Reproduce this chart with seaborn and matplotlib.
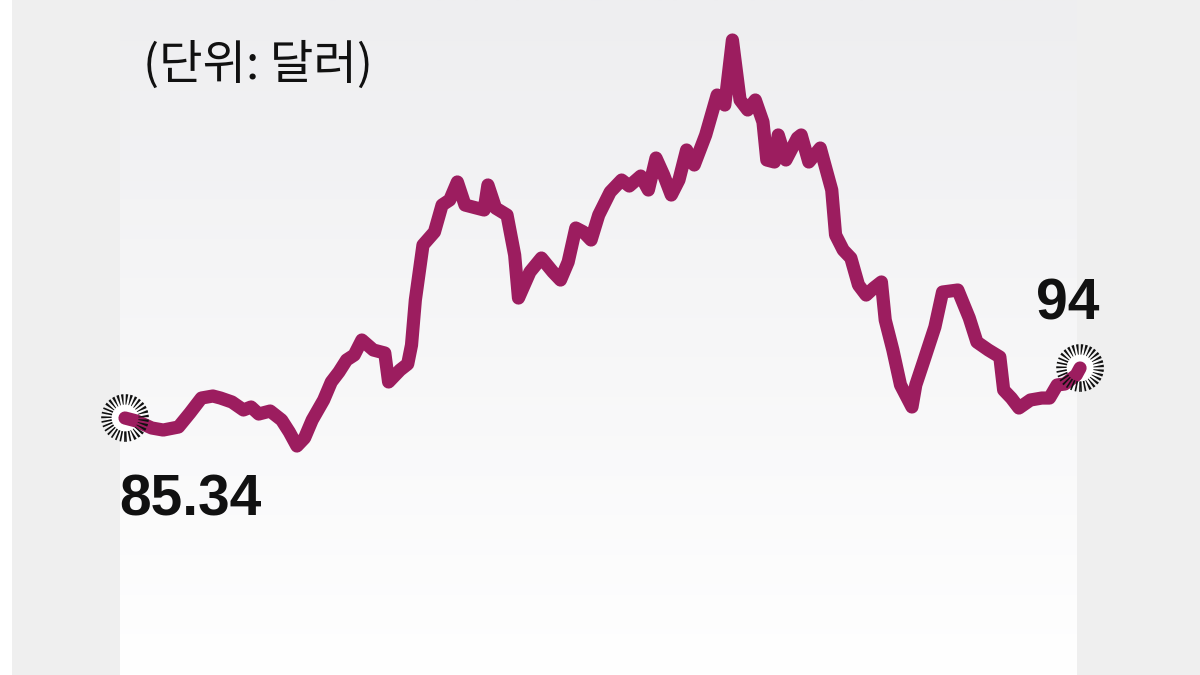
import numpy as np
import pandas as pd
import matplotlib
import matplotlib.pyplot as plt
import seaborn as sns
from matplotlib.colors import LinearSegmentedColormap
from matplotlib.patches import Rectangle

matplotlib.use('Agg')

# trading day index and price (dollars)
days = [0, 3, 7, 10, 14, 17, 20, 23, 25, 28, 31, 33, 35, 38, 41, 43, 45, 47, 49,
        52, 54, 56, 58, 60, 62, 65, 68, 69, 72, 74, 75, 76, 78, 81, 83, 85, 87,
        89, 92, 94, 95, 97, 100, 102, 103, 106, 109, 112, 114, 116, 118, 120,
        122, 124, 127, 130, 132, 135, 137, 139, 141, 143, 145, 147, 149, 152,
        155, 157, 159, 161, 163, 165, 167, 168, 170, 171, 173, 176, 177, 179,
        182, 185, 186, 188, 190, 192, 194, 196, 198, 199, 201, 203, 206, 207,
        209, 212, 214, 218, 221, 223, 226, 229, 230, 232, 234, 237, 240, 242,
        244, 246, 249, 250]
prices = [85.34, 84.82, 83.61, 83.26, 83.78, 86.21, 88.80, 89.15, 88.80, 88.11,
          86.73, 87.25, 86.03, 86.55, 84.99, 82.92, 80.49, 81.88, 84.99, 88.46,
          91.58, 93.31, 95.39, 96.25, 98.85, 97.12, 96.60, 91.58, 93.65, 94.69,
          97.98, 105.78, 115.30, 117.56, 122.23, 123.10, 126.22, 122.23, 121.71,
          121.37, 125.70, 121.71, 120.50, 113.57, 106.12, 110.63, 113.05, 110.63,
          109.24, 112.36, 118.25, 117.56, 116.17, 120.50, 124.48, 126.56, 125.52,
          127.25, 124.83, 130.37, 127.43, 123.96, 126.56, 131.76, 129.16, 134.36,
          141.28, 139.55, 150.81, 140.42, 138.69, 140.42, 136.61, 130.03, 129.68,
          134.36, 130.03, 133.84, 134.36, 129.68, 132.10, 124.83, 117.04, 114.44,
          113.05, 108.38, 106.64, 107.86, 108.90, 102.31, 97.12, 91.06, 87.25,
          91.06, 95.04, 101.10, 107.16, 107.51, 102.66, 98.50, 97.12, 95.91,
          90.19, 88.80, 87.07, 88.46, 88.80, 88.80, 91.06, 91.23, 92.79, 94.00]

unit_label = "(단위: 달러)"
start_label = "85.34"
end_label = "94"

line_color = '#9c1d5f'
bg_gray = '#efefef'

df = pd.DataFrame({'day': days, 'price': prices})

sns.set_style('white')
plt.rcParams['font.family'] = ['Liberation Sans', 'DejaVu Sans']

fig = plt.figure(figsize=(12, 6.75), dpi=100)
fig.patch.set_facecolor(bg_gray)
fig.patches.append(Rectangle((0, 0), 12 / 1200, 1, transform=fig.transFigure,
                             facecolor='white', edgecolor='none', zorder=0))

ax = fig.add_axes([120 / 1200, 0, 957 / 1200, 1])
ax.set_xlim(-1.31, 249.2)
ax.set_ylim(40.83, 157.74)

# vertical gradient panel: light gray at top, white at bottom
grad_cmap = LinearSegmentedColormap.from_list('panel', ['#ffffff', '#eeeef0'])
grad = np.linspace(0, 1, 256).reshape(-1, 1)
ax.imshow(grad, cmap=grad_cmap, aspect='auto', origin='lower',
          extent=[-1.31, 249.2, 40.83, 157.74], zorder=0)

sns.lineplot(data=df, x='day', y='price', ax=ax, color=line_color,
             linewidth=9.5, clip_on=False, zorder=3,
             solid_joinstyle='round', solid_capstyle='round')

ends = df.iloc[[0, -1]]
ax.scatter(ends['day'], ends['price'], s=720, facecolors='white',
           edgecolors='none', zorder=2, clip_on=False)
ax.scatter(ends['day'], ends['price'], s=720, facecolors='none',
           edgecolors='#111111', linewidths=7.5,
           linestyle=(0, (0.16, 0.2)), zorder=4, clip_on=False)

ax.annotate(start_label, (days[0], prices[0]), xytext=(65, -82),
            textcoords='offset pixels', ha='center', va='center',
            fontsize=41, fontweight='bold', color='#111111',
            annotation_clip=False)
ax.annotate(end_label, (days[-1], prices[-1]), xytext=(-12, 64),
            textcoords='offset pixels', ha='center', va='center',
            fontsize=41, fontweight='bold', color='#111111',
            annotation_clip=False)

fig.text(143 / 1200, 1 - 66 / 675, unit_label, ha='left', va='center',
         fontsize=34, color='#111111',
         family=['Noto Sans CJK KR', 'DejaVu Sans'])

ax.set_xlabel('')
ax.set_ylabel('')
ax.set_xticks([])
ax.set_yticks([])
for spine in ax.spines.values():
    spine.set_visible(False)

fig.savefig('out.png', dpi=100, facecolor=fig.get_facecolor())
plt.close(fig)
